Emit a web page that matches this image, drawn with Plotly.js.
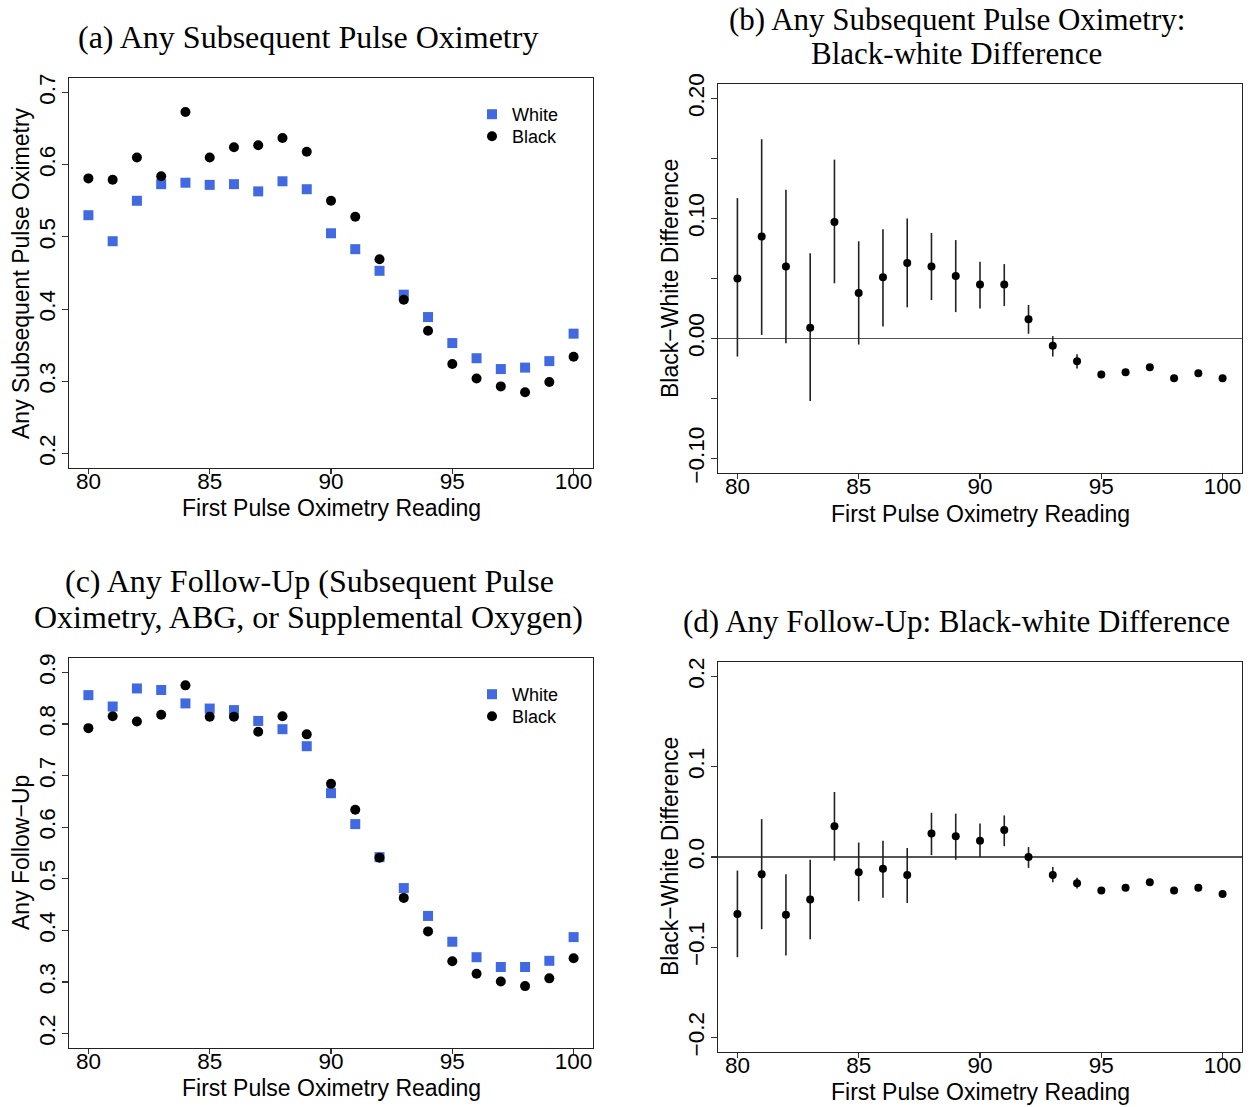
<!DOCTYPE html>
<html>
<head>
<meta charset="utf-8">
<script src="https://cdn.plot.ly/plotly-3.0.1.min.js"></script>
<style>html,body{margin:0;padding:0;background:#fff;}#chart{width:1250px;height:1107px;}</style>
</head>
<body>
<div id="chart"></div>
<script>
// ---------- data ----------
const reading = [80,81,82,83,84,85,86,87,88,89,90,91,92,93,94,95,96,97,98,99,100];

// (a) Any subsequent pulse oximetry
const whiteA = [0.530,0.494,0.550,0.573,0.575,0.572,0.573,0.563,0.577,0.566,0.505,0.483,0.453,0.420,0.389,0.353,0.332,0.317,0.319,0.328,0.366];
const blackA = [0.581,0.579,0.610,0.584,0.673,0.610,0.624,0.627,0.637,0.618,0.550,0.528,0.469,0.413,0.370,0.324,0.304,0.293,0.285,0.299,0.334];

// (b) Black-white difference, subsequent pulse oximetry
const diffB = [0.050,0.085,0.060,0.009,0.097,0.038,0.051,0.063,0.060,0.052,0.045,0.045,0.016,-0.006,-0.019,-0.030,-0.028,-0.024,-0.033,-0.029,-0.033];
const lowB  = [-0.015,0.003,-0.004,-0.052,0.046,-0.005,0.010,0.026,0.032,0.022,0.025,0.027,0.004,-0.015,-0.025,-0.033,-0.031,-0.026,-0.035,-0.031,-0.035];
const highB = [0.117,0.166,0.124,0.071,0.149,0.081,0.091,0.100,0.088,0.082,0.064,0.062,0.028,0.002,-0.013,-0.027,-0.026,-0.022,-0.031,-0.027,-0.031];

// (c) Any follow-up
const whiteC = [0.856,0.834,0.869,0.866,0.840,0.830,0.827,0.806,0.790,0.757,0.666,0.606,0.542,0.482,0.428,0.378,0.348,0.329,0.329,0.341,0.387];
const blackC = [0.792,0.815,0.805,0.818,0.875,0.814,0.814,0.785,0.815,0.780,0.684,0.634,0.541,0.463,0.398,0.340,0.316,0.301,0.292,0.307,0.346];

// (d) Black-white difference, any follow-up
const diffD = [-0.063,-0.019,-0.064,-0.047,0.034,-0.017,-0.013,-0.020,0.026,0.023,0.018,0.030,0.000,-0.020,-0.029,-0.037,-0.034,-0.028,-0.037,-0.034,-0.041];
const lowD  = [-0.111,-0.080,-0.109,-0.091,-0.004,-0.049,-0.045,-0.051,0.002,-0.003,0.000,0.012,-0.012,-0.028,-0.035,-0.039,-0.036,-0.030,-0.039,-0.036,-0.043];
const highD = [-0.015,0.042,-0.019,-0.003,0.072,0.016,0.018,0.010,0.049,0.048,0.037,0.046,0.011,-0.011,-0.023,-0.035,-0.032,-0.026,-0.035,-0.032,-0.039];

// tick labels
const xTickVals = [80,85,90,95,100];
const xTickText = ['80','85','90','95','100'];
const yTickValsA = [0.2,0.3,0.4,0.5,0.6,0.7];
const yTickTextA = ['0.2','0.3','0.4','0.5','0.6','0.7'];
const yTickValsB = [-0.10,-0.05,0.00,0.05,0.10,0.15,0.20];
const yTickTextB = ['\u22120.10','','0.00','','0.10','','0.20'];
const yTickValsC = [0.2,0.3,0.4,0.5,0.6,0.7,0.8,0.9];
const yTickTextC = ['0.2','0.3','0.4','0.5','0.6','0.7','0.8','0.9'];
const yTickValsD = [-0.2,-0.1,0.0,0.1,0.2];
const yTickTextD = ['\u22120.2','\u22120.1','0.0','0.1','0.2'];

const seriesNames = ['White','Black'];

// ---------- styling ----------
const W = 1250, H = 1107;
const px = v => v / W;
const py = v => 1 - v / H;
const BLUE = '#4169E1';
const SANS = 'Liberation Sans, Arial, Helvetica, sans-serif';
const SERIF = 'Liberation Serif, Times New Roman, serif';
const TICKF = {family: SANS, size: 22.5, color: '#000'};

const upper = (hi, est) => hi.map((h, i) => h - est[i]);
const lower = (lo, est) => lo.map((l, i) => est[i] - l);

const traces = [
  {x: reading, y: whiteA, type: 'scatter', mode: 'markers', name: seriesNames[0],
   marker: {symbol: 'square', size: 10, color: BLUE}, xaxis: 'x', yaxis: 'y', legend: 'legend'},
  {x: reading, y: blackA, type: 'scatter', mode: 'markers', name: seriesNames[1],
   marker: {symbol: 'circle', size: 10, color: '#000'}, xaxis: 'x', yaxis: 'y', legend: 'legend3'},
  {x: reading, y: diffB, type: 'scatter', mode: 'markers', showlegend: false,
   marker: {symbol: 'circle', size: 8, color: '#000'},
   error_y: {type: 'data', symmetric: false, array: upper(highB, diffB), arrayminus: lower(lowB, diffB),
             width: 0, thickness: 1.6, color: '#222'},
   xaxis: 'x2', yaxis: 'y2'},
  {x: reading, y: whiteC, type: 'scatter', mode: 'markers', name: seriesNames[0],
   marker: {symbol: 'square', size: 10, color: BLUE}, xaxis: 'x3', yaxis: 'y3', legend: 'legend2'},
  {x: reading, y: blackC, type: 'scatter', mode: 'markers', name: seriesNames[1],
   marker: {symbol: 'circle', size: 10, color: '#000'}, xaxis: 'x3', yaxis: 'y3', legend: 'legend4'},
  {x: reading, y: diffD, type: 'scatter', mode: 'markers', showlegend: false,
   marker: {symbol: 'circle', size: 8, color: '#000'},
   error_y: {type: 'data', symmetric: false, array: upper(highD, diffD), arrayminus: lower(lowD, diffD),
             width: 0, thickness: 1.6, color: '#222'},
   xaxis: 'x4', yaxis: 'y4'}
];

function xAxis(domain, anchor) {
  return {domain: domain, anchor: anchor, range: [79.2, 100.8], tickmode: 'array',
    tickvals: xTickVals, ticktext: xTickText, ticks: 'outside', ticklen: 5, tickwidth: 1.2,
    tickcolor: '#333', showline: true, mirror: true, linecolor: '#222', linewidth: 1.3,
    showgrid: false, zeroline: false, tickfont: TICKF, ticklabelstandoff: -12,
    automargin: false, fixedrange: true};
}
function yAxis(domain, anchor, range, vals, text, zero) {
  return {domain: domain, anchor: anchor, range: range, tickmode: 'array',
    tickvals: vals, ticktext: text, ticks: 'outside', ticklen: 6, tickwidth: 1.2,
    tickcolor: '#333', tickangle: -90, showline: true, mirror: true, linecolor: '#222',
    linewidth: 1.3, showgrid: false, zeroline: zero, zerolinecolor: '#555', zerolinewidth: 1.5,
    tickfont: TICKF, ticklabelstandoff: -2, automargin: false, fixedrange: true};
}

const domLeft = [px(69), px(593)];
const domRight = [px(718), px(1242)];

function ann(text, x, y, size, family, angle) {
  return {text: text, x: px(x), y: py(y), xref: 'paper', yref: 'paper', showarrow: false,
    xanchor: 'center', yanchor: 'middle', textangle: angle || 0,
    font: {family: family, size: size, color: '#000'}};
}
function leg(x, yTop) {
  return {x: px(x), y: py(yTop), xanchor: 'left', yanchor: 'top', bgcolor: 'rgba(0,0,0,0)',
    borderwidth: 0, font: {family: SANS, size: 18, color: '#000'}, itemwidth: 30, tracegroupgap: 0};
}

const layout = {
  width: W, height: H, margin: {l: 0, r: 0, t: 0, b: 0},
  paper_bgcolor: '#fff', plot_bgcolor: '#fff', showlegend: true,
  xaxis: xAxis(domLeft, 'y'),
  yaxis: yAxis([py(468), py(78)], 'x', [0.18, 0.72], yTickValsA, yTickTextA, false),
  xaxis2: xAxis(domRight, 'y2'),
  yaxis2: yAxis([py(473), py(84)], 'x2', [-0.112, 0.212], yTickValsB, yTickTextB, true),
  xaxis3: xAxis(domLeft, 'y3'),
  yaxis3: yAxis([py(1048), py(658)], 'x3', [0.172, 0.928], yTickValsC, yTickTextC, false),
  xaxis4: xAxis(domRight, 'y4'),
  yaxis4: yAxis([py(1052), py(662)], 'x4', [-0.216, 0.216], yTickValsD, yTickTextD, true),
  legend: leg(472, 96),
  legend3: leg(472, 118),
  legend2: leg(472, 676),
  legend4: leg(472, 698),
  annotations: [
    ann('(a) Any Subsequent Pulse Oximetry', 308, 37, 32, SERIF),
    ann('(b) Any Subsequent Pulse Oximetry:', 957, 20, 31, SERIF),
    ann('Black-white Difference', 957, 53, 31, SERIF),
    ann('(c) Any Follow-Up (Subsequent Pulse', 309, 581, 32, SERIF),
    ann('Oximetry, ABG, or Supplemental Oxygen)', 308, 617, 32, SERIF),
    ann('(d) Any Follow-Up: Black-white Difference', 957, 621, 31, SERIF),
    ann('First Pulse Oximetry Reading', 331, 508, 23, SANS),
    ann('First Pulse Oximetry Reading', 980, 514, 23, SANS),
    ann('First Pulse Oximetry Reading', 331, 1088, 23, SANS),
    ann('First Pulse Oximetry Reading', 980, 1092, 23, SANS),
    ann('Any Subsequent Pulse Oximetry', 21, 273, 23, SANS, -90),
    ann('Black\u2212White Difference', 670, 279, 23, SANS, -90),
    ann('Any Follow\u2212Up', 21, 853, 23, SANS, -90),
    ann('Black\u2212White Difference', 670, 857, 23, SANS, -90)
  ]
};

Plotly.newPlot('chart', traces, layout, {staticPlot: true, displayModeBar: false});
</script>
</body>
</html>
